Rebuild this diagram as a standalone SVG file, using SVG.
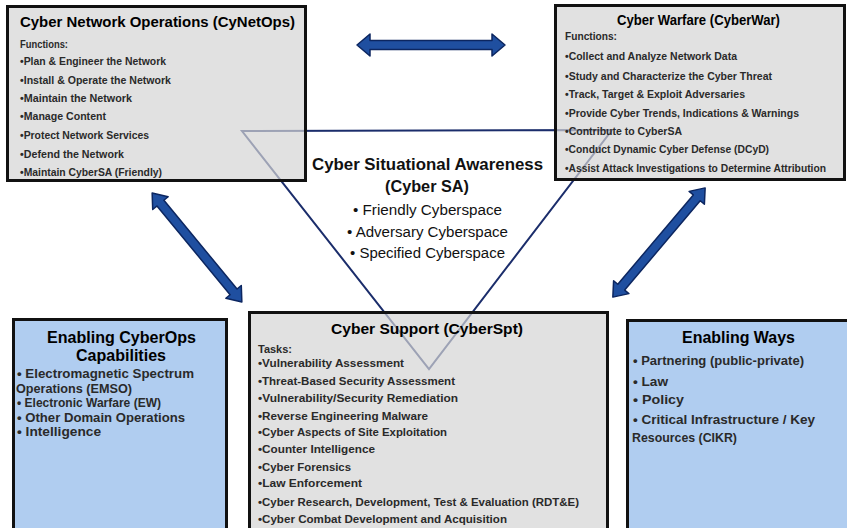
<svg xmlns="http://www.w3.org/2000/svg" width="847" height="528" viewBox="0 0 847 528">
  <style>
    text { font-family: "Liberation Sans", Arial, sans-serif; }
    .box-gray { fill: #d4d4d4; fill-opacity: 0.7; stroke: #111; stroke-width: 3; }
    .box-blue { fill: #b0cdf0; stroke: #111; stroke-width: 3; }
    .title { font-weight: bold; fill: #000; text-anchor: middle; }
    .t15 { font-size: 15px; }
    .t16 { font-size: 16.5px; }
    .item { font-weight: bold; fill: #2a2a2a; }
    .s10 { font-size: 10px; }
    .s11 { font-size: 10.8px; }
    .s12 { font-size: 12.3px; }
    .sa-title { font-size: 17px; font-weight: bold; fill: #111; text-anchor: middle; }
    .sa-item { font-size: 14px; fill: #111; text-anchor: middle; }
    .tri { fill: none; stroke: #1b2d6b; stroke-width: 2; stroke-linejoin: miter; }
    .arrow { fill: #1f4fa0; stroke: #0c2660; stroke-width: 1.5; stroke-linejoin: round; }
  </style>

  <!-- Cyber SA triangle (drawn beneath boxes) -->
  <g id="cyber-sa">
    <polygon class="tri" points="242,131 612,130 429,369"/>
    <text class="sa-title" x="427.5" y="170" textLength="231" lengthAdjust="spacingAndGlyphs">Cyber Situational  Awareness</text>
    <text class="sa-title" x="427" y="192" textLength="84" lengthAdjust="spacingAndGlyphs">(Cyber SA)</text>
    <text class="sa-item" x="427.5" y="215" textLength="149" lengthAdjust="spacingAndGlyphs">• Friendly Cyberspace</text>
    <text class="sa-item" x="427.5" y="237" textLength="161" lengthAdjust="spacingAndGlyphs">• Adversary Cyberspace</text>
    <text class="sa-item" x="427.5" y="258" textLength="155" lengthAdjust="spacingAndGlyphs">• Specified Cyberspace</text>
  </g>

  <!-- Connectors -->
  <g id="connectors">
    <path class="arrow" transform="translate(431,45)" d="M-74,0 L-61,-11 L-61,-4.5 L61,-4.5 L61,-11 L74,0 L61,11 L61,4.5 L-61,4.5 L-61,11 Z"/>
    <path class="arrow" transform="translate(197,247.5) rotate(50.5)" d="M-70.5,0 L-57.5,-10 L-57.5,-4.5 L57.5,-4.5 L57.5,-10 L70.5,0 L57.5,10 L57.5,4.5 L-57.5,4.5 L-57.5,10 Z"/>
    <path class="arrow" transform="translate(659,242.5) rotate(-49.8)" d="M-71.5,0 L-58.5,-10 L-58.5,-4.5 L58.5,-4.5 L58.5,-10 L71.5,0 L58.5,10 L58.5,4.5 L-58.5,4.5 L-58.5,10 Z"/>
  </g>

  <!-- Cyber Network Operations -->
  <g id="cynetops">
    <rect class="box-gray" x="7.5" y="6.5" width="298" height="174"/>
    <text class="title t15" x="157.5" y="27" textLength="275" lengthAdjust="spacingAndGlyphs">Cyber Network Operations (CyNetOps)</text>
    <text class="item s10" x="20" y="47.8" textLength="48" lengthAdjust="spacingAndGlyphs">Functions:</text>
    <text class="item s10" x="20" y="65.2" textLength="146" lengthAdjust="spacingAndGlyphs">•Plan &amp; Engineer the Network</text>
    <text class="item s10" x="20" y="83.5" textLength="151" lengthAdjust="spacingAndGlyphs">•Install  &amp; Operate the Network</text>
    <text class="item s10" x="20" y="101.8" textLength="112" lengthAdjust="spacingAndGlyphs">•Maintain  the Network</text>
    <text class="item s10" x="20" y="120.2" textLength="86" lengthAdjust="spacingAndGlyphs">•Manage  Content</text>
    <text class="item s10" x="20" y="139.2" textLength="129" lengthAdjust="spacingAndGlyphs">•Protect Network Services</text>
    <text class="item s10" x="20" y="157.5" textLength="104" lengthAdjust="spacingAndGlyphs">•Defend the Network</text>
    <text class="item s10" x="20" y="175.8" textLength="142" lengthAdjust="spacingAndGlyphs">•Maintain  CyberSA (Friendly)</text>
  </g>

  <!-- Cyber Warfare -->
  <g id="cyberwar">
    <rect class="box-gray" x="555.5" y="5.5" width="289" height="174"/>
    <text class="title t15" x="698.5" y="24.5" textLength="163" lengthAdjust="spacingAndGlyphs">Cyber Warfare (CyberWar)</text>
    <text class="item s10" x="565" y="39.5" textLength="52" lengthAdjust="spacingAndGlyphs">Functions:</text>
    <text class="item s10" x="565" y="60" textLength="172" lengthAdjust="spacingAndGlyphs">•Collect and Analyze Network Data</text>
    <text class="item s10" x="565" y="79.5" textLength="207" lengthAdjust="spacingAndGlyphs">•Study and Characterize the Cyber Threat</text>
    <text class="item s10" x="565" y="98" textLength="180" lengthAdjust="spacingAndGlyphs">•Track, Target &amp; Exploit Adversaries</text>
    <text class="item s10" x="565" y="117" textLength="234" lengthAdjust="spacingAndGlyphs">•Provide Cyber Trends, Indications  &amp; Warnings</text>
    <text class="item s10" x="565" y="135" textLength="117" lengthAdjust="spacingAndGlyphs">•Contribute to CyberSA</text>
    <text class="item s10" x="565" y="153" textLength="204" lengthAdjust="spacingAndGlyphs">•Conduct Dynamic Cyber Defense (DCyD)</text>
    <text class="item s10" x="565" y="172" textLength="261" lengthAdjust="spacingAndGlyphs">•Assist Attack Investigations to Determine Attribution</text>
  </g>

  <!-- Enabling CyberOps Capabilities -->
  <g id="enabling-cyberops">
    <rect class="box-blue" x="13.5" y="319.5" width="213" height="215"/>
    <text class="title t16" x="121.5" y="343" textLength="149" lengthAdjust="spacingAndGlyphs">Enabling CyberOps</text>
    <text class="title t16" x="121" y="361" textLength="90" lengthAdjust="spacingAndGlyphs">Capabilities</text>
    <text class="item s12" x="17" y="378" textLength="177" lengthAdjust="spacingAndGlyphs">• Electromagnetic Spectrum</text>
    <text class="item s12" x="16" y="393" textLength="116" lengthAdjust="spacingAndGlyphs">Operations (EMSO)</text>
    <text class="item s12" x="17" y="407" textLength="144" lengthAdjust="spacingAndGlyphs">• Electronic Warfare (EW)</text>
    <text class="item s12" x="17" y="422" textLength="168" lengthAdjust="spacingAndGlyphs">• Other Domain Operations</text>
    <text class="item s12" x="17" y="436" textLength="84" lengthAdjust="spacingAndGlyphs">• Intelligence</text>
  </g>

  <!-- Cyber Support -->
  <g id="cyberspt">
    <rect class="box-gray" x="249.5" y="312.5" width="358" height="222"/>
    <text class="title t15" x="427" y="333.5" textLength="192" lengthAdjust="spacingAndGlyphs">Cyber Support (CyberSpt)</text>
    <text class="item s11" x="258" y="352.5" textLength="34" lengthAdjust="spacingAndGlyphs">Tasks:</text>
    <text class="item s11" x="258" y="366.5" textLength="146" lengthAdjust="spacingAndGlyphs">•Vulnerability Assessment</text>
    <text class="item s11" x="258" y="384.5" textLength="197" lengthAdjust="spacingAndGlyphs">•Threat-Based Security Assessment</text>
    <text class="item s11" x="258" y="401.5" textLength="200" lengthAdjust="spacingAndGlyphs">•Vulnerability/Security Remediation</text>
    <text class="item s11" x="258" y="419.5" textLength="170" lengthAdjust="spacingAndGlyphs">•Reverse Engineering Malware</text>
    <text class="item s11" x="258" y="435.5" textLength="189" lengthAdjust="spacingAndGlyphs">•Cyber Aspects of Site Exploitation</text>
    <text class="item s11" x="258" y="452.5" textLength="117" lengthAdjust="spacingAndGlyphs">•Counter Intelligence</text>
    <text class="item s11" x="258" y="470.5" textLength="93" lengthAdjust="spacingAndGlyphs">•Cyber Forensics</text>
    <text class="item s11" x="258" y="486.5" textLength="104" lengthAdjust="spacingAndGlyphs">•Law Enforcement</text>
    <text class="item s11" x="258" y="505.5" textLength="321" lengthAdjust="spacingAndGlyphs">•Cyber Research, Development, Test &amp; Evaluation (RDT&amp;E)</text>
    <text class="item s11" x="258" y="522.5" textLength="249" lengthAdjust="spacingAndGlyphs">•Cyber Combat Development and Acquisition</text>
  </g>

  <!-- Enabling Ways -->
  <g id="enabling-ways">
    <rect class="box-blue" x="627.5" y="320.5" width="222" height="214"/>
    <text class="title t16" x="738.5" y="343" textLength="113" lengthAdjust="spacingAndGlyphs">Enabling Ways</text>
    <text class="item s12" x="633" y="365" textLength="171" lengthAdjust="spacingAndGlyphs">• Partnering (public-private)</text>
    <text class="item s12" x="633" y="386" textLength="35" lengthAdjust="spacingAndGlyphs">• Law</text>
    <text class="item s12" x="633" y="404" textLength="51" lengthAdjust="spacingAndGlyphs">• Policy</text>
    <text class="item s12" x="633" y="424" textLength="182" lengthAdjust="spacingAndGlyphs">• Critical Infrastructure / Key</text>
    <text class="item s12" x="632" y="442" textLength="105" lengthAdjust="spacingAndGlyphs">Resources (CIKR)</text>
  </g>
</svg>
